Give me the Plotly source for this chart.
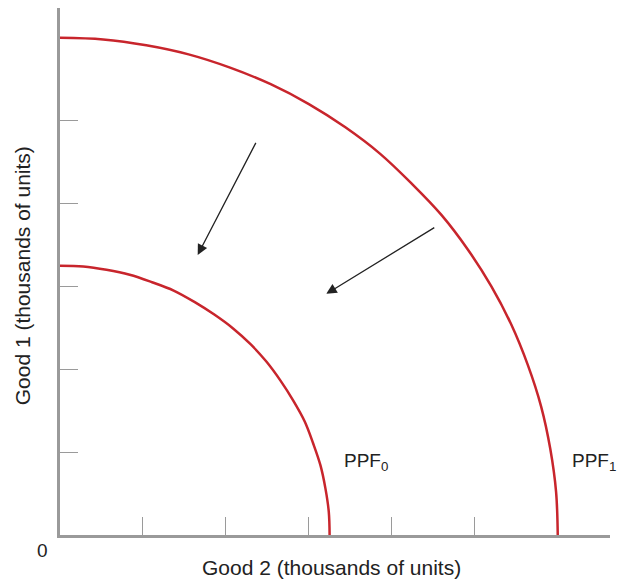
import plotly.graph_objects as go

# PPF curves (thousands of units)
ppf1_good2 = [0, 0.52, 1.04, 1.55, 2.05, 2.54, 3.0, 3.44, 3.86, 4.24, 4.60, 4.92, 5.20, 5.44, 5.64, 5.80, 5.91, 5.98, 6.0]
ppf1_good1 = [6.0, 5.98, 5.91, 5.80, 5.64, 5.44, 5.20, 4.92, 4.60, 4.24, 3.86, 3.44, 3.0, 2.54, 2.05, 1.55, 1.04, 0.52, 0]
ppf0_good2 = [0, 0.28, 0.56, 0.84, 1.11, 1.37, 1.625, 1.86, 2.09, 2.30, 2.49, 2.66, 2.81, 2.95, 3.05, 3.14, 3.20, 3.24, 3.25]
ppf0_good1 = [3.25, 3.24, 3.20, 3.14, 3.05, 2.95, 2.81, 2.66, 2.49, 2.30, 2.09, 1.86, 1.625, 1.37, 1.11, 0.84, 0.56, 0.28, 0]

# arrows: (tail_x, tail_y, head_x, head_y)
arrows = [(2.37, 4.75, 1.66, 3.38), (4.53, 3.72, 3.21, 2.91)]

tick_vals = [1, 2, 3, 4, 5]
curve_labels = [("PPF<sub>0</sub>", 3.40, 0.88), ("PPF<sub>1</sub>", 6.15, 0.88)]

FONT = "Liberation Sans, Arial, sans-serif"
TXT = "#222222"
RED = "#c8252c"
GREY = "#9a9a9a"

fig = go.Figure()
for xs, ys in [(ppf1_good2, ppf1_good1), (ppf0_good2, ppf0_good1)]:
    fig.add_trace(go.Scatter(x=xs, y=ys, mode="lines",
                             line=dict(color=RED, width=2.5, shape="spline", smoothing=1.0),
                             hoverinfo="skip", showlegend=False))

for tx, ty, hx, hy in arrows:
    fig.add_annotation(x=hx, y=hy, ax=tx, ay=ty, xref="x", yref="y", axref="x", ayref="y",
                       text="", showarrow=True, arrowhead=2, arrowsize=1.6, arrowwidth=1.3,
                       arrowcolor=TXT)

for txt, lx, ly in curve_labels:
    fig.add_annotation(x=lx, y=ly, xref="x", yref="y", text=txt, showarrow=False,
                       xanchor="left", yanchor="middle", font=dict(family=FONT, size=19, color=TXT))

fig.add_annotation(x=-0.0327, y=-0.0285, xref="paper", yref="paper", text="0", showarrow=False,
                   xanchor="center", yanchor="middle", font=dict(family=FONT, size=19, color=TXT))

# axis titles
fig.add_annotation(x=0.4936, y=-0.0626, xref="paper", yref="paper", text="Good 2 (thousands of units)",
                   showarrow=False, xanchor="center", yanchor="middle",
                   font=dict(family=FONT, size=21, color=TXT))
fig.add_annotation(x=-0.069, y=0.491, xref="paper", yref="paper", text="Good 1 (thousands of units)",
                   showarrow=False, textangle=-90, xanchor="center", yanchor="middle",
                   font=dict(family=FONT, size=21, color=TXT))

axis_common = dict(showgrid=False, zeroline=False, showline=True, linecolor=GREY, linewidth=2.5,
                   ticks="inside", ticklen=18, tickwidth=1, tickcolor=GREY, automargin=False,
                   tickvals=tick_vals, showticklabels=False, fixedrange=True)

fig.update_xaxes(range=[0, 6.63], **axis_common)
fig.update_yaxes(range=[0, 6.36], **axis_common)

fig.update_layout(width=619, height=584, margin=dict(l=60, r=9, t=8, b=49),
                  plot_bgcolor="white", paper_bgcolor="white")

fig.write_html("out.html", config={"displayModeBar": False},
               post_script="document.body.style.margin='0';")
